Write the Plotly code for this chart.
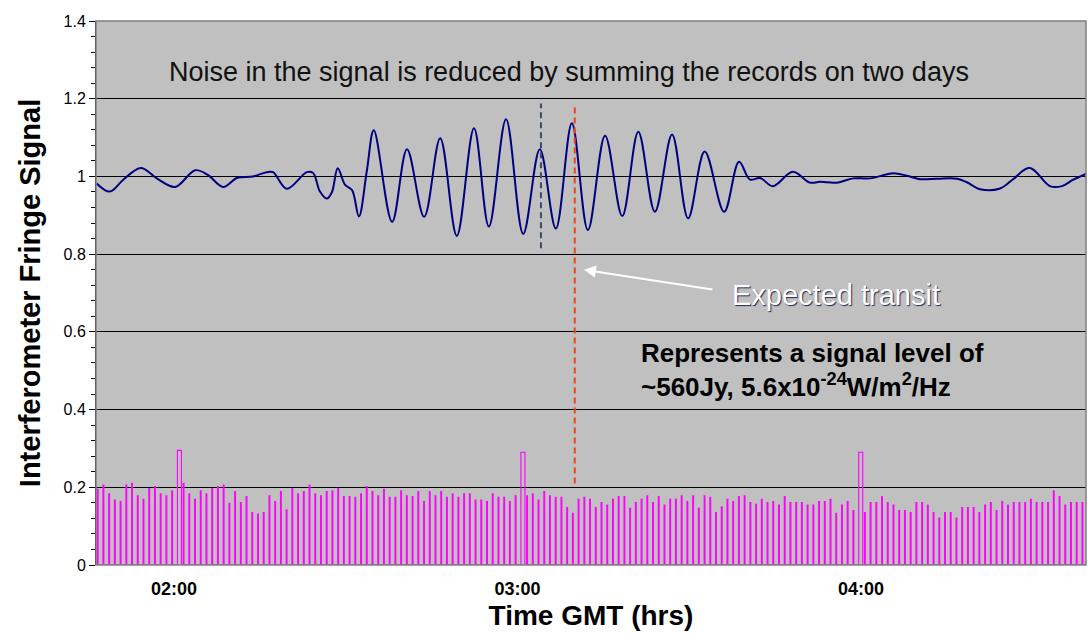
import plotly.graph_objects as go

# ---------------- data ----------------
# Summed fringe signal: time in minutes after 00:00 GMT, signal value
signal_minutes = [106.5, 108.8, 111.1, 114.2, 117.0, 120.2, 123.7, 125.9, 128.6, 131.0,
                  133.8, 136.2, 137.3, 139.7, 143.2, 144.3, 145.5, 146.7, 147.6, 148.6,
                  149.9, 151.1, 152.3, 153.7, 154.9, 158.1, 160.7, 163.7, 166.5, 169.4,
                  172.4, 175.0, 178.0, 181.0, 183.9, 186.7, 189.5, 192.3, 195.3, 198.3,
                  201.1, 204.0, 207.0, 209.8, 212.7, 216.1, 218.7, 220.6, 222.4, 224.6,
                  228.1, 231.1, 232.8, 235.8, 238.6, 241.6, 245.6, 248.0, 250.3, 253.3,
                  256.8, 258.5, 260.8, 264.3, 266.5, 269.5, 273.0, 275.1, 277.0, 279.5]
signal_values = [0.982, 0.961, 0.991, 1.022, 0.995, 0.973, 1.016, 1.004, 0.973, 0.996,
                 1.000, 1.011, 1.011, 0.968, 1.011, 1.009, 0.961, 0.943, 0.960, 1.021,
                 0.978, 0.965, 0.897, 1.016, 1.119, 0.883, 1.070, 0.896, 1.098, 0.847,
                 1.124, 0.871, 1.147, 0.852, 1.070, 0.866, 1.137, 0.862, 1.105, 0.898,
                 1.115, 0.909, 1.108, 0.892, 1.064, 0.909, 1.038, 0.992, 0.996, 0.975,
                 1.012, 0.984, 0.986, 0.984, 0.995, 0.995, 1.008, 1.002, 0.993, 0.994,
                 0.994, 0.985, 0.967, 0.969, 0.992, 1.022, 0.975, 0.975, 0.991, 1.008]

# Per-minute timing pulses (first pulse at 01:46.6), heights
pulse_start_minute = 106.6
pulse_heights = [
    0.195, 0.206, 0.183, 0.167, 0.163, 0.206, 0.210, 0.178, 0.169, 0.197,
    0.202, 0.183, 0.178, 0.191, 0.295, 0.210, 0.183, 0.169, 0.191, 0.183,
    0.197, 0.202, 0.206, 0.159, 0.189, 0.161, 0.176, 0.135, 0.131, 0.135,
    0.178, 0.163, 0.189, 0.142, 0.197, 0.183, 0.189, 0.206, 0.183, 0.178,
    0.189, 0.191, 0.197, 0.176, 0.176, 0.174, 0.183, 0.202, 0.189, 0.178,
    0.195, 0.174, 0.174, 0.191, 0.178, 0.176, 0.189, 0.163, 0.189, 0.178,
    0.189, 0.174, 0.183, 0.174, 0.183, 0.183, 0.167, 0.167, 0.163, 0.183,
    0.174, 0.174, 0.163, 0.178, 0.290, 0.178, 0.183, 0.167, 0.189, 0.178,
    0.174, 0.174, 0.148, 0.133, 0.169, 0.174, 0.169, 0.148, 0.161, 0.154,
    0.169, 0.176, 0.176, 0.146, 0.161, 0.169, 0.178, 0.161, 0.176, 0.154,
    0.169, 0.169, 0.178, 0.163, 0.178, 0.146, 0.178, 0.174, 0.135, 0.150,
    0.169, 0.163, 0.176, 0.178, 0.161, 0.156, 0.169, 0.161, 0.163, 0.154,
    0.176, 0.161, 0.161, 0.161, 0.154, 0.154, 0.163, 0.163, 0.169, 0.133,
    0.154, 0.163, 0.140, 0.290, 0.135, 0.161, 0.161, 0.176, 0.161, 0.154,
    0.140, 0.140, 0.135, 0.161, 0.161, 0.154, 0.135, 0.121, 0.135, 0.135,
    0.121, 0.148, 0.148, 0.148, 0.135, 0.154, 0.161, 0.140, 0.163, 0.154,
    0.161, 0.161, 0.161, 0.169, 0.161, 0.161, 0.161, 0.191, 0.176, 0.154,
    0.161, 0.161, 0.161, 0.161]
hour_mark_height = 0.25  # pulses above this are the hourly marks

# Marker lines: (time in minutes, y from, y to)
fringe_centre_minute, fringe_centre_y = 184.1, [0.815, 1.188]
expected_transit_minute, expected_transit_y = 190.0, [0.21, 1.178]

x_tick_vals = [120, 180, 240]
x_tick_text = ["02:00", "03:00", "04:00"]
y_tick_vals = [0, 0.2, 0.4, 0.6, 0.8, 1.0, 1.2, 1.4]
y_tick_text = ["0", "0.2", "0.4", "0.6", "0.8", "1", "1.2", "1.4"]
x_range = [106.38, 279.3]
y_range = [0, 1.4]

# ---------------- build pulse outline ----------------
px, py = [], []
for i, h in enumerate(pulse_heights):
    t = pulse_start_minute + i
    w = 0.7 if h > hour_mark_height else 0.15
    px += [t, t, t + w, t + w]
    py += [0, h, h, 0]

FONT = "Liberation Sans, Arial, sans-serif"

fig = go.Figure()
fig.add_trace(go.Scatter(x=px, y=py, mode="lines",
                         line=dict(color="#FF00FF", width=1.1),
                         hoverinfo="skip", showlegend=False))
fig.add_trace(go.Scatter(x=signal_minutes, y=signal_values, mode="lines",
                         line=dict(color="#000080", width=2, shape="spline", smoothing=1.0),
                         showlegend=False))
fig.add_trace(go.Scatter(x=[fringe_centre_minute] * 2, y=fringe_centre_y, mode="lines",
                         line=dict(color="#3C4A66", width=2, dash="6px,4px"),
                         showlegend=False))
fig.add_trace(go.Scatter(x=[expected_transit_minute] * 2, y=expected_transit_y, mode="lines",
                         line=dict(color="#E8461E", width=2, dash="6px,4px"),
                         showlegend=False))


def xp(pix):
    return (pix - 96) / 990.0


def yp(pix):
    return (565 - pix) / 544.0


fig.add_annotation(x=xp(569), y=yp(55), xref="paper", yref="paper", showarrow=False,
                   text="Noise in the signal is reduced by summing the records on two days",
                   font=dict(family=FONT, size=27, color="#111111"))
fig.add_annotation(x=191.6, y=0.760, xref="x", yref="y", ax=130, ay=20,
                   showarrow=True, arrowhead=2, arrowsize=1.2, arrowwidth=2,
                   arrowcolor="white", text="")
fig.add_annotation(x=xp(730), y=yp(295), xref="paper", yref="paper", showarrow=False,
                   xanchor="left", text="Expected transit",
                   font=dict(family=FONT, size=29, color="white",
                             shadow="1px 1px 1px #1c2a55"))
fig.add_annotation(x=xp(639), y=yp(370), xref="paper", yref="paper", showarrow=False,
                   xanchor="left", align="left",
                   text="<b>Represents a signal level of<br>"
                        "~560Jy, 5.6x10<sup>-24</sup>W/m<sup>2</sup>/Hz</b>",
                   font=dict(family=FONT, size=26, color="#000000"))

fig.add_shape(type="rect", xref="paper", yref="paper", x0=0, y0=0, x1=1, y1=1,
              line=dict(color="#808080", width=1.5), layer="above")

fig.update_layout(
    width=1088, height=642,
    margin=dict(l=96, r=2, t=21, b=77),
    paper_bgcolor="white", plot_bgcolor="#C0C0C0",
    font=dict(family=FONT, color="black"),
    xaxis=dict(range=x_range, tickvals=x_tick_vals, ticktext=x_tick_text,
               tickfont=dict(family=FONT, size=18, color="black", weight="bold"),
               showgrid=False, zeroline=False, showline=False,
               ticks="outside", ticklen=7, tickcolor="rgba(0,0,0,0)",
               title=dict(text="<b>Time GMT (hrs)</b>", font=dict(family=FONT, size=28),
                          standoff=7)),
    yaxis=dict(range=y_range, tickvals=y_tick_vals, ticktext=y_tick_text,
               tickfont=dict(family=FONT, size=16, color="black"),
               showgrid=True, gridcolor="black", gridwidth=1, zeroline=False,
               showline=True, linecolor="black", linewidth=1,
               ticks="outside", ticklen=6, tickcolor="black",
               minor=dict(dtick=0.04, ticks="outside", ticklen=4, tickcolor="black",
                          showgrid=False),
               title=dict(text="<b>Interferometer Fringe Signal</b>",
                          font=dict(family=FONT, size=29), standoff=14)),
)

fig.write_html("out.html")
